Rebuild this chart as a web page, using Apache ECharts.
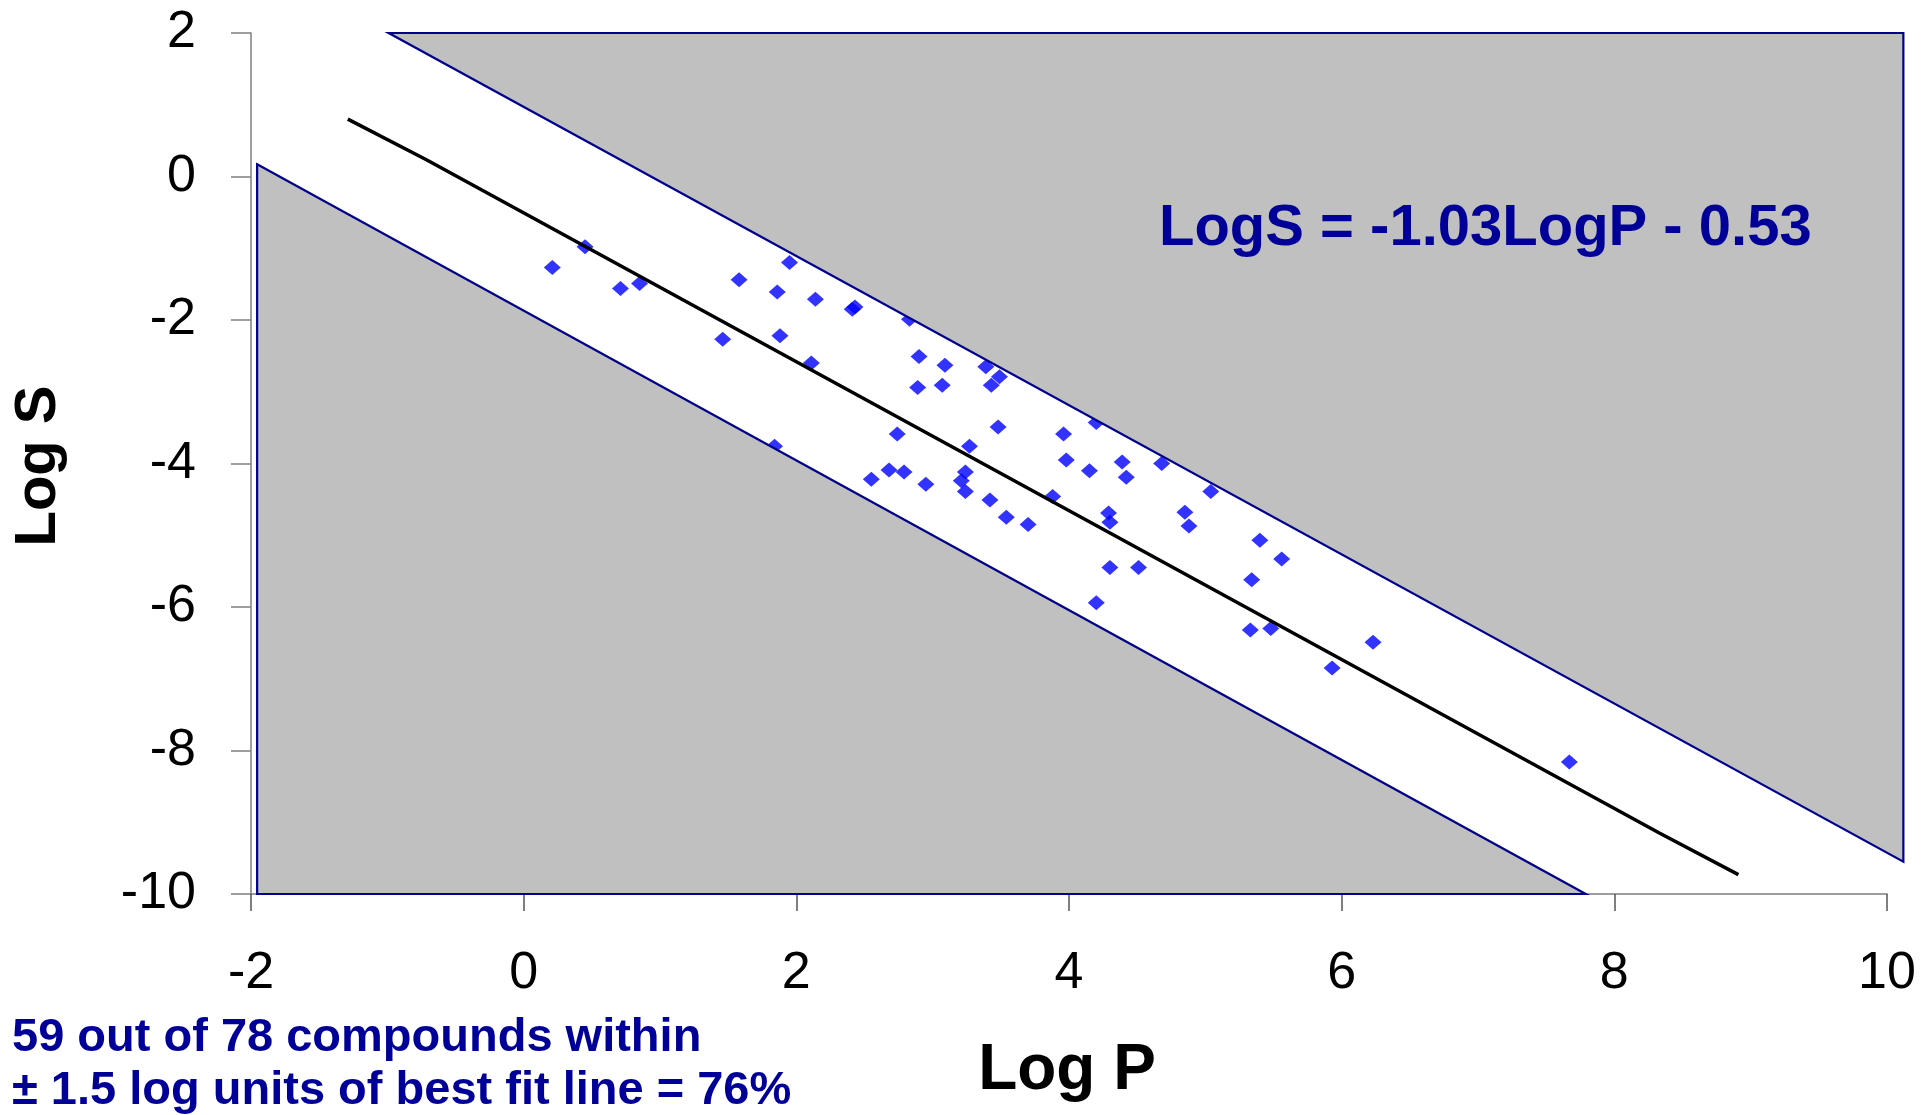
<!DOCTYPE html>
<html>
<head>
<meta charset="utf-8">
<title>Log S vs Log P</title>
<script src="https://cdn.jsdelivr.net/npm/echarts@6/dist/echarts.min.js"></script>
<style>
  html, body { margin: 0; padding: 0; background: #ffffff; }
  #chart { width: 1923px; height: 1115px; }
</style>
</head>
<body>
<div id="chart"></div>
<script>
// Measured compounds: partition coefficient (Log P) and aqueous solubility (Log S)
const logP = [
  0.21, 0.45, 0.71, 0.85, 1.58, 1.95, 1.86, 2.14, 2.41, 2.43,
  2.83, 1.46, 1.88, 2.11, 2.90, 3.09, 3.39, 3.49, 2.89, 3.07,
  3.43, 3.48, 2.74, 3.27, 1.84, 3.96, 4.20, 3.98, 4.15, 4.39,
  4.42, 4.68, 5.04, 2.55, 2.68, 2.79, 2.95, 3.24, 3.21, 3.24,
  3.42, 3.54, 3.70, 3.88, 4.29, 4.30, 4.85, 4.88, 5.40, 5.56,
  4.30, 4.51, 5.34, 4.20, 5.33, 5.48, 6.23, 5.93, 7.67
];
const logS = [
  -1.27, -0.98, -1.56, -1.49, -1.44, -1.20, -1.61, -1.71, -1.85, -1.82,
  -1.99, -2.27, -2.22, -2.60, -2.51, -2.63, -2.65, -2.79, -2.94, -2.91,
  -2.91, -3.49, -3.59, -3.76, -3.76, -3.59, -3.43, -3.95, -4.10, -3.98,
  -4.19, -4.00, -4.39, -4.22, -4.09, -4.12, -4.29, -4.12, -4.24, -4.39,
  -4.51, -4.75, -4.85, -4.46, -4.69, -4.82, -4.68, -4.87, -5.07, -5.33,
  -5.45, -5.45, -5.62, -5.94, -6.32, -6.30, -6.49, -6.85, -8.16
];

// Best-fit line vertices
const fitP = [-1.29, -0.71, 6.50, 8.33, 8.91];
const fitS = [0.80, 0.23, -7.25, -9.15, -9.73];

// Shaded regions outside the ±1.5 log-unit band
const upperRegionP = [-0.99, 10.12, 10.12];
const upperRegionS = [2, 2, -9.55];
const lowerRegionP = [-1.955, 7.79, -1.955];
const lowerRegionS = [0.17, -10, -10];

// Axis ranges and step
const xRange = [-2, 10];
const yRange = [-10, 2];
const axisStep = 2;

// Text
const equationText = 'LogS = -1.03LogP - 0.53';
const summaryLines = ['59 out of 78 compounds within', '\u00B1 1.5 log units of best fit line = 76%'];
const xTitle = 'Log P';
const yTitle = 'Log S';

const zip = (a, b) => a.map((v, i) => [v, b[i]]);

const FONT = '"Liberation Sans", Arial, Helvetica, sans-serif';
const NAVY = '#000099';
const BAND_EDGE = '#00008B';
const FILL = '#C0C0C0';
const AXIS_GREY = '#7f7f7f';

function regionSeries(name, px, py) {
  const verts = zip(px, py);
  return {
    name: name,
    type: 'custom',
    coordinateSystem: 'cartesian2d',
    clip: false,
    silent: true,
    z: 3,
    data: [[px[0], py[0]]],
    renderItem: function (params, api) {
      return {
        type: 'polygon',
        shape: { points: verts.map(v => api.coord(v)) },
        style: { fill: FILL, stroke: BAND_EDGE, lineWidth: 2.2, lineJoin: 'miter' }
      };
    }
  };
}

const chart = echarts.init(document.getElementById('chart'), null, { renderer: 'canvas' });

chart.setOption({
  backgroundColor: '#ffffff',
  animation: false,
  textStyle: { fontFamily: FONT },
  grid: { left: 251, right: 36, top: 33, bottom: 221, containLabel: false },
  xAxis: {
    type: 'value',
    min: xRange[0], max: xRange[1], interval: axisStep,
    axisLine: { onZero: false, lineStyle: { color: AXIS_GREY, width: 1.5 } },
    axisTick: { show: true, length: 17, lineStyle: { color: '#555555', width: 1.5 } },
    axisLabel: { margin: 54, color: '#000000', fontSize: 52, fontFamily: FONT },
    splitLine: { show: false }
  },
  yAxis: {
    type: 'value',
    min: yRange[0], max: yRange[1], interval: axisStep,
    axisLine: { show: true, onZero: false, lineStyle: { color: AXIS_GREY, width: 1.5 } },
    axisTick: { show: true, length: 20, lineStyle: { color: AXIS_GREY, width: 1.5 } },
    axisLabel: { margin: 55, color: '#000000', fontSize: 52, fontFamily: FONT },
    splitLine: { show: false }
  },
  series: [
    {
      name: 'Compounds',
      type: 'scatter',
      z: 2,
      symbol: 'diamond',
      symbolSize: [17, 15],
      itemStyle: { color: '#0000FF' },
      data: zip(logP, logS)
    },
    regionSeries('Above band', upperRegionP, upperRegionS),
    regionSeries('Below band', lowerRegionP, lowerRegionS),
    {
      name: 'Best fit',
      type: 'line',
      z: 4,
      symbol: 'none',
      lineStyle: { color: '#000000', width: 3.5 },
      data: zip(fitP, fitS)
    }
  ],
  graphic: [
    {
      type: 'text', x: 39, y: 466, rotation: Math.PI / 2,
      style: { text: yTitle, font: 'bold 58px ' + FONT, fill: '#000000', align: 'center', verticalAlign: 'middle' }
    },
    {
      type: 'text', x: 1067, y: 1071,
      style: { text: xTitle, font: 'bold 64px ' + FONT, fill: '#000000', align: 'center', verticalAlign: 'middle' }
    },
    {
      type: 'text', x: 1159, y: 229, z: 10,
      style: { text: equationText, font: 'bold 58px ' + FONT, fill: NAVY, align: 'left', verticalAlign: 'middle' }
    },
    {
      type: 'text', x: 12, y: 1038,
      style: { text: summaryLines[0], font: 'bold 47px ' + FONT, fill: NAVY, align: 'left', verticalAlign: 'middle' }
    },
    {
      type: 'text', x: 12, y: 1091,
      style: { text: summaryLines[1], font: 'bold 47px ' + FONT, fill: NAVY, align: 'left', verticalAlign: 'middle' }
    }
  ]
});
</script>
</body>
</html>
